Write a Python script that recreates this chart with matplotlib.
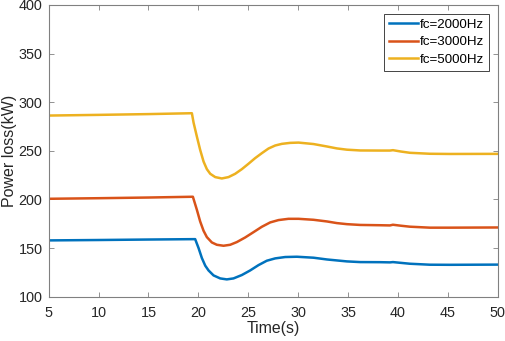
import matplotlib
matplotlib.use("Agg")
import matplotlib.pyplot as plt

plt.rcParams['font.family'] = ['Liberation Sans', 'DejaVu Sans']

# fc = 2000 Hz (blue)
t_2000 = [5, 10, 15, 19.68, 20.02, 20.35, 20.69, 21.02, 21.52, 22.19, 22.85, 23.52, 24.36,
          25.19, 26.03, 26.86, 27.70, 28.70, 29.87, 31.54, 32.88, 33.88, 34.89, 36.22, 38.22,
          39.2, 39.5, 40.3, 41.2, 43.2, 45.2, 50]
p_2000 = [157.9, 158.3, 158.8, 159.2, 150.0, 139.8, 131.9, 127.0, 121.9, 118.8, 117.8, 118.8, 122.3,
          127.0, 132.5, 137.0, 139.4, 140.8, 141.1, 140.1, 138.3, 137.3, 136.3, 135.6, 135.5,
          135.3, 135.6, 134.8, 133.9, 132.9, 132.8, 133.0]

# fc = 3000 Hz (red)
t_3000 = [5, 10, 15, 19.45, 19.85, 20.18, 20.52, 20.85, 21.35, 21.85, 22.52, 23.19, 23.86, 24.69,
          25.53, 26.36, 27.20, 28.03, 29.03, 30.04, 31.54, 32.88, 33.88, 34.89, 36.22, 38.22,
          39.2, 39.5, 40.3, 41.2, 43.2, 45.2, 50]
p_3000 = [200.7, 201.3, 202.0, 202.8, 189.4, 177.4, 167.8, 161.3, 155.8, 153.4, 152.4, 153.4, 156.2, 160.9,
          166.4, 171.9, 176.4, 178.8, 180.1, 180.1, 179.1, 177.4, 175.7, 174.6, 173.8, 173.5,
          173.3, 174.0, 173.0, 172.0, 171.0, 171.0, 171.2]

# fc = 5000 Hz (yellow)
t_5000 = [5, 10, 15, 19.35, 19.52, 19.85, 20.18, 20.52, 20.85, 21.19, 21.69, 22.35, 23.02, 23.69,
          24.36, 25.02, 25.69, 26.36, 27.03, 27.70, 28.37, 29.20, 30.04, 31.54, 32.88, 33.88,
          34.89, 36.22, 38.22, 39.2, 39.5, 40.3, 41.2, 43.2, 45.2, 50]
p_5000 = [286.3, 287.0, 287.8, 288.7, 279.0, 264.7, 251.0, 239.0, 231.2, 226.4, 223.0, 221.6, 223.0, 226.4,
          231.2, 236.7, 242.5, 247.6, 252.4, 255.5, 257.2, 258.2, 258.5, 257.0, 254.5, 252.5,
          251.2, 250.4, 250.3, 250.3, 250.7, 249.3, 248.0, 247.0, 246.8, 246.9]

labels = ['fc=2000Hz', 'fc=3000Hz', 'fc=5000Hz']
colors = ['#0072BD', '#D95319', '#EDB120']

x_ticks = [5, 10, 15, 20, 25, 30, 35, 40, 45, 50]
y_ticks = [100, 150, 200, 250, 300, 350, 400]

fig = plt.figure(figsize=(5.05, 3.41), dpi=100)
ax = fig.add_axes([48.7 / 505, 1 - 296.7 / 341, 449 / 505, 291.7 / 341])

for t, p, lab, c in zip([t_2000, t_3000, t_5000], [p_2000, p_3000, p_5000], labels, colors):
    ax.plot(t, p, color=c, lw=1.8, label=lab)

ax.set_xlim(5, 50)
ax.set_ylim(100, 400)
ax.set_xticks(x_ticks)
ax.set_yticks(y_ticks)
ax.tick_params(direction='in', top=True, right=True, length=3.5, width=0.6,
               color='#808080', labelsize=10.4, labelcolor='#262626')
ax.tick_params(axis='x', pad=6.5)
ax.tick_params(axis='y', pad=4.5)
for s in ax.spines.values():
    s.set_color('#808080')
    s.set_linewidth(0.8)

ax.set_xlabel('Time(s)', fontsize=11.4, color='#262626', labelpad=1)
ax.set_ylabel('Power loss(kW)', fontsize=11.5, color='#262626', labelpad=1)

leg = ax.legend(loc='upper right', fontsize=9.6, frameon=True, fancybox=False,
                edgecolor='#262626', framealpha=1, borderpad=0.35, handlelength=2.2,
                handletextpad=0.15, labelspacing=0.4, borderaxespad=0.65)
leg.get_frame().set_linewidth(0.6)

fig.savefig('out.png', dpi=100)
